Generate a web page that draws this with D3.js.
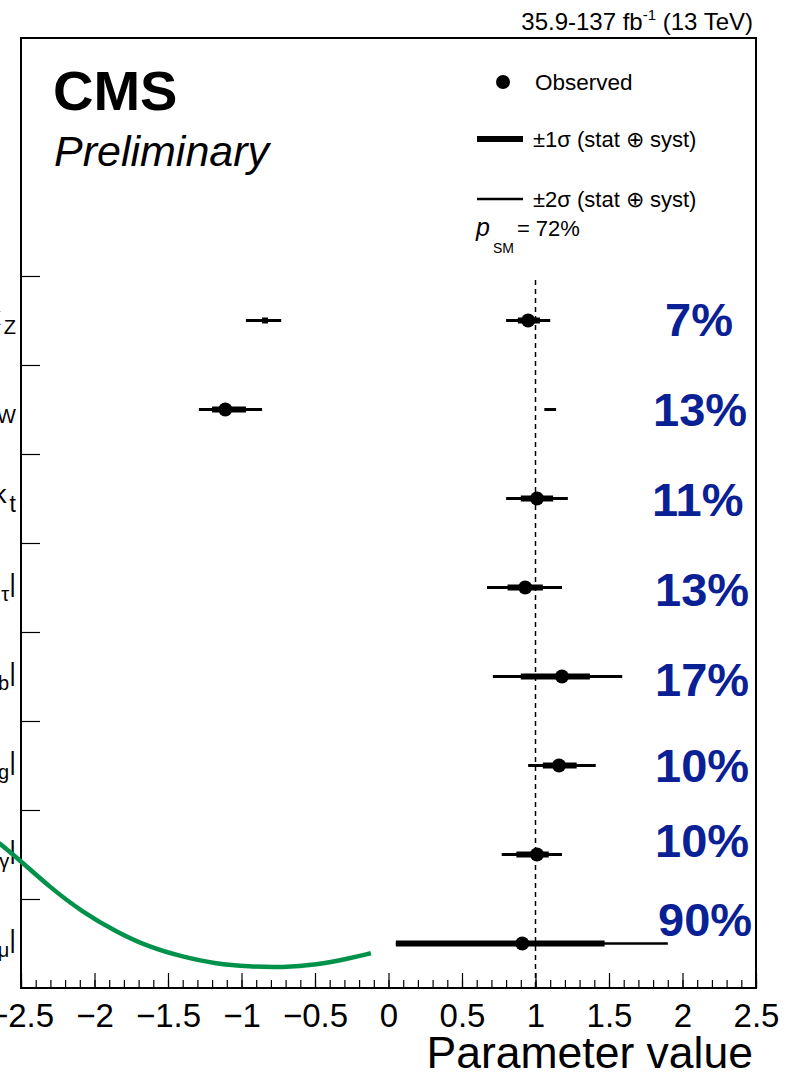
<!DOCTYPE html>
<html>
<head>
<meta charset="utf-8">
<script src="https://cdnjs.cloudflare.com/ajax/libs/d3/7.8.5/d3.min.js"></script>
<style>
    body { margin: 0; background: #fff; }
    svg { display: block; font-family: "Liberation Sans", Arial, Helvetica, sans-serif; }
</style>
</head>
<body>
<div id="chart"></div>
<script>
// parameters, top to bottom
var paramMain = ["κ", "κ", "κ", "|κ", "|κ", "|κ", "|κ", "|κ"];
var paramSub = ["Z", "W", "t", "τ", "b", "g", "γ", "μ"];
var paramClose = ["", "", "", "|", "|", "|", "|", "|"];

var bestFit = [0.95, -1.11, 1.01, 0.93, 1.18, 1.16, 1.01, 0.91];
var lo1 = [0.88, -1.20, 0.90, 0.81, 0.90, 1.05, 0.87, 0.05];
var hi1 = [1.03, -0.97, 1.12, 1.05, 1.37, 1.28, 1.09, 1.47];
var lo2 = [0.80, -1.29, 0.80, 0.67, 0.71, 0.95, 0.77, 0.05];
var hi2 = [1.10, -0.86, 1.22, 1.18, 1.59, 1.41, 1.18, 1.90];

// secondary intervals (row index, lo, hi)
var extra1 = [[0, -0.86, -0.82]];
var extra2 = [[0, -0.97, -0.73], [1, 1.06, 1.14]];

var uncertLabels = ["7%", "13%", "11%", "13%", "17%", "10%", "10%", "90%"];

// green curve (x value, y in row units from bottom)
var curveX = [-2.65, -2.51, -2.31, -2.08, -1.85, -1.63, -1.40, -1.17, -0.95, -0.72, -0.49, -0.27, -0.12];
var curveY = [1.63, 1.44, 1.14, 0.85, 0.63, 0.46, 0.35, 0.27, 0.24, 0.23, 0.26, 0.33, 0.39];

var xMajor = [-2.5, -2, -1.5, -1, -0.5, 0, 0.5, 1, 1.5, 2, 2.5];

var width = 794, height = 1074,
    frame = {left: 21, right: 756, top: 38, bottom: 988},
    nRows = paramSub.length;

var svg = d3.select("#chart").append("svg")
    .attr("width", width)
    .attr("height", height);

svg.append("rect").attr("width", width).attr("height", height).attr("fill", "#fff");

var x = d3.scaleLinear().domain([-2.5, 2.5]).range([frame.left, frame.right]);
var y = d3.scaleLinear().domain([0, 10.674]).range([frame.bottom, frame.top]);

var rowY = function (i) { return y(nRows - i - 0.5); };

// x axis: major and minor ticks pointing inward
var minor = d3.range(-25, 26).map(function (d) { return d / 10; });
svg.append("g")
    .attr("transform", "translate(0," + frame.bottom + ")")
    .call(d3.axisBottom(x).tickValues(minor).tickSize(-8).tickFormat(""))
    .call(function (g) { g.select(".domain").remove(); })
    .selectAll("line").attr("stroke", "#000").attr("stroke-width", 1.2);

svg.append("g")
    .attr("transform", "translate(0," + frame.bottom + ")")
    .call(d3.axisBottom(x).tickValues(xMajor).tickSize(-15).tickPadding(16).tickFormat(d3.format("")))
    .call(function (g) { g.select(".domain").remove(); })
    .call(function (g) {
        g.selectAll("line").attr("stroke", "#000").attr("stroke-width", 1.2);
        g.selectAll("text").attr("font-size", 33).attr("fill", "#000")
            .attr("font-family", "Liberation Sans, Arial, sans-serif");
    });

// y axis ticks
svg.append("g")
    .attr("transform", "translate(" + frame.left + ",0)")
    .call(d3.axisLeft(y).tickValues(d3.range(1, nRows + 1)).tickSize(-19).tickFormat(""))
    .call(function (g) { g.select(".domain").remove(); })
    .selectAll("line").attr("stroke", "#000").attr("stroke-width", 1.2);

// frame
svg.append("rect")
    .attr("x", frame.left).attr("y", frame.top)
    .attr("width", frame.right - frame.left)
    .attr("height", frame.bottom - frame.top)
    .attr("fill", "none").attr("stroke", "#000").attr("stroke-width", 2);

// SM line
svg.append("line")
    .attr("x1", x(1)).attr("x2", x(1))
    .attr("y1", y(nRows) + 4).attr("y2", frame.bottom)
    .attr("stroke", "#000").attr("stroke-width", 1.5)
    .attr("stroke-dasharray", "5,4");

// row labels, clipped by the page edge
var labels = svg.append("g").selectAll("text")
    .data(paramSub)
    .enter().append("text")
    .attr("x", 16)
    .attr("y", function (d, i) { return rowY(i) + 5; })
    .attr("text-anchor", "end")
    .attr("fill", "#000");
labels.append("tspan").attr("font-size", 26).text(function (d, i) { return paramMain[i]; });
labels.append("tspan").attr("font-size", function (d) { return d === "t" ? 23 : 20; })
    .attr("dy", 9).attr("dx", 3).text(function (d) { return d; });
labels.append("tspan").attr("font-size", 26).attr("dy", -9).text(function (d, i) { return paramClose[i]; });

// 2 sigma bars
var plot = svg.append("g");
plot.selectAll(".bar2")
    .data(d3.range(nRows).map(function (i) { return [i, lo2[i], hi2[i]]; }).concat(extra2))
    .enter().append("line")
    .attr("class", "bar2")
    .attr("x1", function (d) { return x(d[1]); })
    .attr("x2", function (d) { return x(d[2]); })
    .attr("y1", function (d) { return rowY(d[0]); })
    .attr("y2", function (d) { return rowY(d[0]); })
    .attr("stroke", "#000")
    .attr("stroke-width", function (d) { return d[0] === nRows - 1 ? 2.5 : 3; });

// 1 sigma bars
plot.selectAll(".bar1")
    .data(d3.range(nRows).map(function (i) { return [i, lo1[i], hi1[i]]; }).concat(extra1))
    .enter().append("line")
    .attr("class", "bar1")
    .attr("x1", function (d) { return x(d[1]); })
    .attr("x2", function (d) { return x(d[2]); })
    .attr("y1", function (d) { return rowY(d[0]); })
    .attr("y2", function (d) { return rowY(d[0]); })
    .attr("stroke", "#000")
    .attr("stroke-width", 6);

// best fit points
plot.selectAll("circle")
    .data(bestFit)
    .enter().append("circle")
    .attr("cx", function (d) { return x(d); })
    .attr("cy", function (d, i) { return rowY(i); })
    .attr("r", 7)
    .attr("fill", "#000");

// uncertainty labels
var pctX = [665, 653, 652, 655, 655, 655, 655, 658],
    pctDy = [16, 17, 18, 19, 20, 17, 3, -7];
svg.append("g").selectAll("text")
    .data(uncertLabels)
    .enter().append("text")
    .attr("x", function (d, i) { return pctX[i]; })
    .attr("y", function (d, i) { return rowY(i) + pctDy[i]; })
    .attr("font-size", 47)
    .attr("font-weight", "bold")
    .attr("fill", "#0a2196")
    .text(function (d) { return d; });

// green curve
var curveData = curveX.map(function (d, i) { return [d, curveY[i]]; });
svg.append("path")
    .datum(curveData)
    .attr("d", d3.line()
        .x(function (d) { return x(d[0]); })
        .y(function (d) { return y(d[1]); })
        .curve(d3.curveBasis))
    .attr("fill", "none")
    .attr("stroke", "#00914b")
    .attr("stroke-width", 4.5);

// CMS labels
svg.append("text").attr("x", 53).attr("y", 110)
    .attr("font-size", 56).attr("font-weight", "bold").text("CMS");
svg.append("text").attr("x", 54).attr("y", 166)
    .attr("font-size", 43).attr("font-style", "italic").text("Preliminary");

var lumi = svg.append("text").attr("x", 753).attr("y", 30)
    .attr("text-anchor", "end").attr("font-size", 24);
lumi.append("tspan").text("35.9-137 fb");
lumi.append("tspan").attr("font-size", 15).attr("dy", -10).text("-1");
lumi.append("tspan").attr("dy", 10).text(" (13 TeV)");

// legend
var legend = svg.append("g");
legend.append("circle").attr("cx", 503).attr("cy", 82).attr("r", 7).attr("fill", "#000");
legend.append("text").attr("x", 535).attr("y", 90).attr("font-size", 22.5).text("Observed");
legend.append("line").attr("x1", 477).attr("x2", 523).attr("y1", 139).attr("y2", 139)
    .attr("stroke", "#000").attr("stroke-width", 6);
legend.append("text").attr("x", 533).attr("y", 147).attr("font-size", 22).text("±1σ (stat ⊕ syst)");
legend.append("line").attr("x1", 477).attr("x2", 523).attr("y1", 199).attr("y2", 199)
    .attr("stroke", "#000").attr("stroke-width", 2.5);
legend.append("text").attr("x", 533).attr("y", 207).attr("font-size", 22).text("±2σ (stat ⊕ syst)");
var psm = legend.append("text").attr("x", 476).attr("y", 236).attr("font-size", 22);
psm.append("tspan").attr("font-style", "italic").attr("font-size", 25).text("p");
psm.append("tspan").attr("font-size", 14).attr("dy", 17).attr("dx", 3).text("SM");
psm.append("tspan").attr("dy", -17).attr("dx", 3).text("= 72%");

// axis title
svg.append("text").attr("x", 753).attr("y", 1068)
    .attr("text-anchor", "end").attr("font-size", 44.5).text("Parameter value");
</script>
</body>
</html>
